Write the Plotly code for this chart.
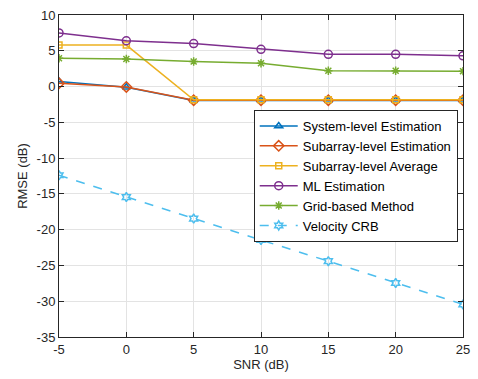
import plotly.graph_objects as go

snr = [-5, 0, 5, 10, 15, 20, 25]
system_level = [0.7, -0.1, -1.95, -1.95, -1.95, -1.95, -1.95]
subarray_est = [0.45, -0.05, -1.9, -1.9, -1.9, -1.9, -1.9]
subarray_avg = [5.8, 5.8, -1.85, -1.85, -1.85, -1.85, -1.85]
ml_est = [7.5, 6.4, 6.0, 5.2, 4.5, 4.5, 4.3]
grid_based = [3.95, 3.85, 3.5, 3.25, 2.2, 2.2, 2.15]
velocity_crb = [-12.4, -15.45, -18.45, -21.45, -24.4, -27.45, -30.45]

x_ticks = [-5, 0, 5, 10, 15, 20, 25]
x_labels = ["-5", "0", "5", "10", "15", "20", "25"]
y_ticks = [-35, -30, -25, -20, -15, -10, -5, 0, 5, 10]
y_labels = ["-35", "-30", "-25", "-20", "-15", "-10", "-5", "0", "5", "10"]

series = [
    ("System-level Estimation", system_level, "#0072BD", "triangle-up-open", "solid", 7),
    ("Subarray-level Estimation", subarray_est, "#D95319", "diamond-open", "solid", 8),
    ("Subarray-level Average", subarray_avg, "#EDB120", "square-open", "solid", 6),
    ("ML Estimation", ml_est, "#7E2F8E", "circle-open", "solid", 8),
    ("Grid-based Method", grid_based, "#77AC30", "asterisk-open", "solid", 7),
    ("Velocity CRB", velocity_crb, "#4DBEEE", "hexagram-open", "dash", 7),
]

fig = go.Figure()
for name, ys, color, sym, dash, size in series:
    fig.add_trace(go.Scatter(
        x=snr, y=ys, name=name, mode="lines+markers",
        line=dict(color=color, width=1.5, dash=dash),
        marker=dict(symbol=sym, size=size, color=color,
                    line=dict(color=color, width=1.5)),
    ))

FONT = "Liberation Sans, Arial, sans-serif"
axis_common = dict(
    showline=True, linecolor="#262626", linewidth=1, mirror="ticks",
    ticks="inside", ticklen=5, tickcolor="#262626",
    showgrid=True, gridcolor="#e3e3e3", gridwidth=1, zeroline=False,
    tickfont=dict(family=FONT, size=13, color="#262626"),
    title_font=dict(family=FONT, size=13, color="#262626"),
)

fig.update_layout(
    width=478, height=379,
    margin=dict(l=59, r=8, t=13, b=42),
    paper_bgcolor="white", plot_bgcolor="white",
    font=dict(family=FONT, size=13, color="#262626"),
    xaxis=dict(range=[-5, 25], tickvals=x_ticks, ticktext=x_labels,
               title=dict(text="SNR (dB)", standoff=4), **axis_common),
    yaxis=dict(range=[-35, 10], tickvals=y_ticks, ticktext=y_labels,
               title=dict(text="RMSE (dB)", standoff=6), **axis_common),
    legend=dict(
        x=0.482, y=0.705, xanchor="left", yanchor="top",
        bgcolor="white", bordercolor="#262626", borderwidth=1,
        font=dict(family=FONT, size=13, color="#000000"),
        tracegroupgap=0, itemwidth=38,
    ),
    showlegend=True,
)

fig.write_html("out.html")
